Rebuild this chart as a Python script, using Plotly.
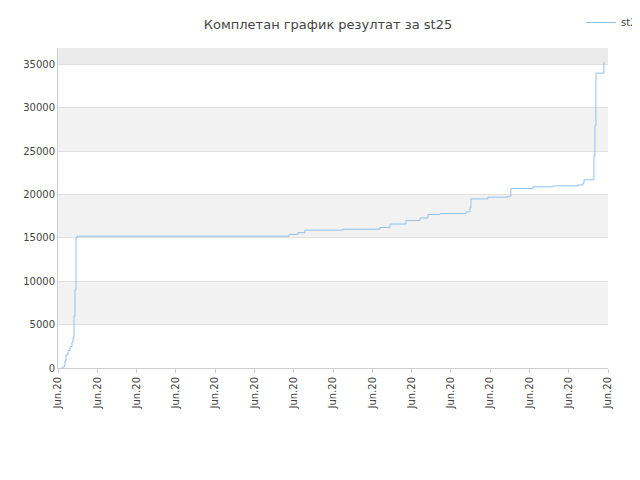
import plotly.graph_objects as go

px_x = [53,56,57,58,60,62,64,65,66,67,68,69,280,281,288,290,297,333,335,368,372,380,382,395,398,410,412,418,420,430,432,455,458,461,462,463,480,482,500,501,503,525,527,545,548,570,572,575,576,586,587,588,596]
vals = [0,300,800,1500,2000,2500,3000,3500,6000,9000,15000,15200,15200,15400,15400,15600,15900,15900,16000,16000,16200,16200,16600,16600,17000,17000,17300,17300,17700,17700,17800,17800,18000,18000,18500,19500,19700,19700,19800,19800,20700,20900,20900,21000,21000,21100,21100,21300,21700,24500,28000,34000,35300]
x = [(p-50)/39.29 for p in px_x]
tick_labels = ["Jun.20"]*15

fig = go.Figure(go.Scatter(x=x, y=vals, mode="lines", name="st25",
                           line=dict(color="#8fc1ee", width=1, shape="hv")))
shapes = []
for lo, hi, c in [(5000,10000,"#f2f2f2"),(15000,20000,"#f2f2f2"),(25000,30000,"#f2f2f2"),(35000,37000,"#ebebeb")]:
    shapes.append(dict(type="rect", xref="paper", x0=0, x1=1, yref="y", y0=lo, y1=hi,
                       fillcolor=c, line_width=0, layer="below"))
fig.update_layout(
    width=640, height=480, plot_bgcolor="white", paper_bgcolor="white",
    title=dict(text="Комплетан график резултат за st25", x=0.5, y=0.975,
               font=dict(size=13, color="#444", family="DejaVu Sans")),
    font=dict(family="DejaVu Sans", size=10, color="#444"),
    margin=dict(l=50, r=40, t=40, b=120, autoexpand=False),
    shapes=shapes, showlegend=True,
    legend=dict(x=1.0, y=1.0, xref="container", yref="container", xanchor="right",
                yanchor="top", font=dict(size=10)),
    xaxis=dict(range=[0,14], tickmode="array", tickvals=list(range(15)), ticktext=tick_labels,
               tickangle=-90, showgrid=False, showline=True, linecolor="#ccc", ticks="outside",
               ticklen=4, tickcolor="#ccc", zeroline=False, automargin=False),
    yaxis=dict(range=[0,36900], tickvals=list(range(0,35001,5000)), tickformat="d",
               showgrid=True, gridcolor="#e0e0e0", zeroline=False, showline=True,
               linecolor="#ccc", automargin=False),
)
fig.write_html("out.html")
